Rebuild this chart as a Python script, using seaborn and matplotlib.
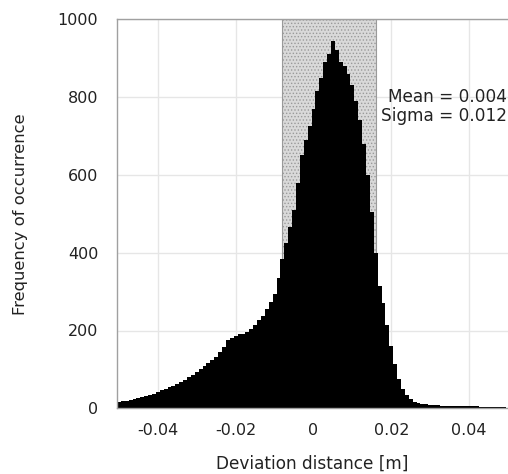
import numpy as np
import pandas as pd
import matplotlib
matplotlib.use("Agg")
import matplotlib.pyplot as plt
import seaborn as sns

# Bin centers (m) and counts
bin_centers = [round(-0.050 + 0.001 * i, 3) for i in range(100)]
counts = [
    15, 18, 20, 22, 25, 27, 30, 32, 35, 38,          # -0.050 .. -0.041
    42, 46, 50, 54, 58, 62, 67, 73, 80, 86,          # -0.040 .. -0.031
    93, 100, 110, 117, 125, 133, 145, 158, 175, 182, # -0.030 .. -0.021
    186, 192, 190, 195, 205, 215, 228, 237, 255, 272,# -0.020 .. -0.011
    295, 335, 385, 425, 465, 510, 580, 650, 690, 725,# -0.010 .. -0.001
    770, 815, 850, 890, 910, 945, 920, 890, 880, 860,#  0.000 ..  0.009
    830, 790, 740, 680, 600, 505, 400, 315, 270, 215,#  0.010 ..  0.019
    160, 115, 75, 50, 35, 24, 17, 13, 11, 10,        #  0.020 ..  0.029
    9, 8, 8, 7, 7, 6, 6, 6, 5, 5,                    #  0.030 ..  0.039
    5, 5, 5, 4, 4, 4, 4, 4, 4, 4,                    #  0.040 ..  0.049
]
mean_val = 0.004
sigma_val = 0.012
x_ticks = [-0.04, -0.02, 0, 0.02, 0.04]
x_tick_labels = ["-0.04", "-0.02", "0", "0.02", "0.04"]
y_ticks = [0, 200, 400, 600, 800, 1000]

df = pd.DataFrame({"dev": bin_centers, "count": counts})

sns.set_style("whitegrid")
plt.rcParams["font.family"] = ["DejaVu Sans"]
plt.rcParams["hatch.linewidth"] = 0.6

fig = plt.figure(figsize=(5.08, 4.74), dpi=100)
ax = fig.add_axes([117 / 508, (474 - 408.3) / 474, 391 / 508, (408.3 - 19.3) / 474])
ax.set_axisbelow(True)

# shaded mean +/- sigma band
ax.axvspan(mean_val - sigma_val, mean_val + sigma_val, ymin=0, ymax=1,
           facecolor="#d9d9d9", edgecolor="#9a9a9a", hatch=".....",
           linewidth=0.8, zorder=1)

sns.histplot(data=df, x="dev", weights="count", binwidth=0.001,
             binrange=(-0.0505, 0.0495), element="step",
             fill=True, color="black", alpha=1, linewidth=0, ax=ax, zorder=2)

ax.set_xlim(-0.0505, 0.0500)
ax.set_ylim(0, 1000)
ax.set_xticks(x_ticks)
ax.set_xticklabels(x_tick_labels)
ax.set_yticks(y_ticks)

ax.grid(True, color="#e6e6e6", linewidth=1.0)
for side in ["left", "top", "bottom"]:
    ax.spines[side].set_visible(True)
    ax.spines[side].set_color("#a0a0a0")
    ax.spines[side].set_linewidth(1.0)
ax.spines["right"].set_visible(False)

ax.tick_params(axis="both", which="major", length=4, width=0.8, color="#a0a0a0",
               labelsize=11.5, labelcolor="#222222", direction="out")
ax.tick_params(axis="x", pad=6.5)
ax.tick_params(axis="y", pad=9.5)

ax.set_xlabel("Deviation distance [m]", fontsize=12.2, color="#222222", labelpad=12)
ax.set_ylabel("Frequency of occurrence", fontsize=11.8, color="#222222", labelpad=21)

ax.text(0.0497, 776, f"Mean = {mean_val:.3f}\nSigma = {sigma_val:.3f}",
        ha="right", va="center", fontsize=12.2, color="#222222",
        linespacing=1.05, zorder=5)

fig.savefig("out.png", dpi=100)
